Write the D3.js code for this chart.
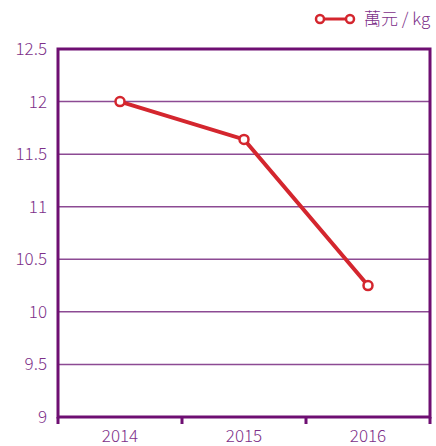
<!DOCTYPE html>
<html>
<head>
<meta charset="utf-8">
<script src="https://cdn.jsdelivr.net/npm/d3@7"></script>
<style>
  body { margin: 0; background: #fff; }
  text { font-family: "Noto Sans CJK TC", "Noto Sans", sans-serif; font-weight: 300; }
</style>
</head>
<body>
<svg width="436" height="446"></svg>
<script>
  var years = ["2014", "2015", "2016"];
  var prices = [12.0, 11.64, 10.25];
  var yTicks = [9, 9.5, 10, 10.5, 11, 11.5, 12, 12.5];
  var seriesName = "萬元 / kg";

  var svg = d3.select("svg"),
    margin = {top: 49, right: 6, bottom: 29, left: 58},
    width = +svg.attr("width") - margin.left - margin.right,
    height = +svg.attr("height") - margin.top - margin.bottom,
    g = svg.append("g").attr("transform", "translate(" + margin.left + "," + margin.top + ")");

  var purple = "#6e0f72",
    gridCol = "#8c4a93",
    textCol = "#7d3089",
    red = "#d4262e";

  var x = d3.scaleBand().domain(years).range([0, width]);
  var y = d3.scaleLinear().domain([9, 12.5]).range([height, 0]);

  // grid lines
  g.append("g")
    .selectAll("line")
    .data(yTicks.slice(1, -1))
    .enter().append("line")
    .attr("x1", 0).attr("x2", width)
    .attr("y1", d => y(d)).attr("y2", d => y(d))
    .attr("stroke", gridCol)
    .attr("stroke-width", 1.5);

  // y labels
  g.append("g")
    .selectAll("text")
    .data(yTicks)
    .enter().append("text")
    .attr("x", -11)
    .attr("y", d => y(d))
    .attr("dy", "0.35em")
    .attr("text-anchor", "end")
    .attr("fill", textCol)
    .style("font-size", "17px")
    .text(d => d);

  // frame
  g.append("rect")
    .attr("x", 0).attr("y", 0)
    .attr("width", width).attr("height", height)
    .attr("fill", "none")
    .attr("stroke", purple)
    .attr("stroke-width", 3);

  // x axis
  var xAxis = g.append("g")
    .attr("transform", "translate(0," + height + ")")
    .call(d3.axisBottom(x).tickSize(0).tickPadding(13));
  xAxis.select(".domain").remove();
  xAxis.selectAll("text")
    .attr("fill", textCol)
    .style("font-size", "17px")
    .style("font-family", "'Noto Sans CJK TC', 'Noto Sans', sans-serif");

  var bounds = [0].concat(years.map(d => x(d) + x.bandwidth()));
  g.append("g")
    .selectAll("line")
    .data(bounds)
    .enter().append("line")
    .attr("x1", d => d).attr("x2", d => d)
    .attr("y1", height).attr("y2", height + 7)
    .attr("stroke", purple)
    .attr("stroke-width", 3);

  // line
  var pts = years.map((d, i) => ({year: d, value: prices[i]}));
  var line = d3.line()
    .x(d => x(d.year) + x.bandwidth() / 2)
    .y(d => y(d.value));

  g.append("path")
    .datum(pts)
    .attr("d", line)
    .attr("fill", "none")
    .attr("stroke", red)
    .attr("stroke-width", 4);

  g.selectAll(".dot")
    .data(pts)
    .enter().append("circle")
    .attr("class", "dot")
    .attr("cx", d => x(d.year) + x.bandwidth() / 2)
    .attr("cy", d => y(d.value))
    .attr("r", 4.5)
    .attr("fill", "#fff")
    .attr("stroke", red)
    .attr("stroke-width", 2.5);

  // legend
  var lg = svg.append("g").attr("transform", "translate(320,19)");
  lg.append("line")
    .attr("x1", 0).attr("x2", 30)
    .attr("stroke", red).attr("stroke-width", 3);
  lg.selectAll("circle")
    .data([0, 30])
    .enter().append("circle")
    .attr("cx", d => d).attr("cy", 0).attr("r", 4)
    .attr("fill", "#fff")
    .attr("stroke", red)
    .attr("stroke-width", 2.5);
  lg.append("text")
    .attr("x", 44)
    .attr("dy", "0.35em")
    .attr("fill", textCol)
    .style("font-size", "17px")
    .text(seriesName);
</script>
</body>
</html>
